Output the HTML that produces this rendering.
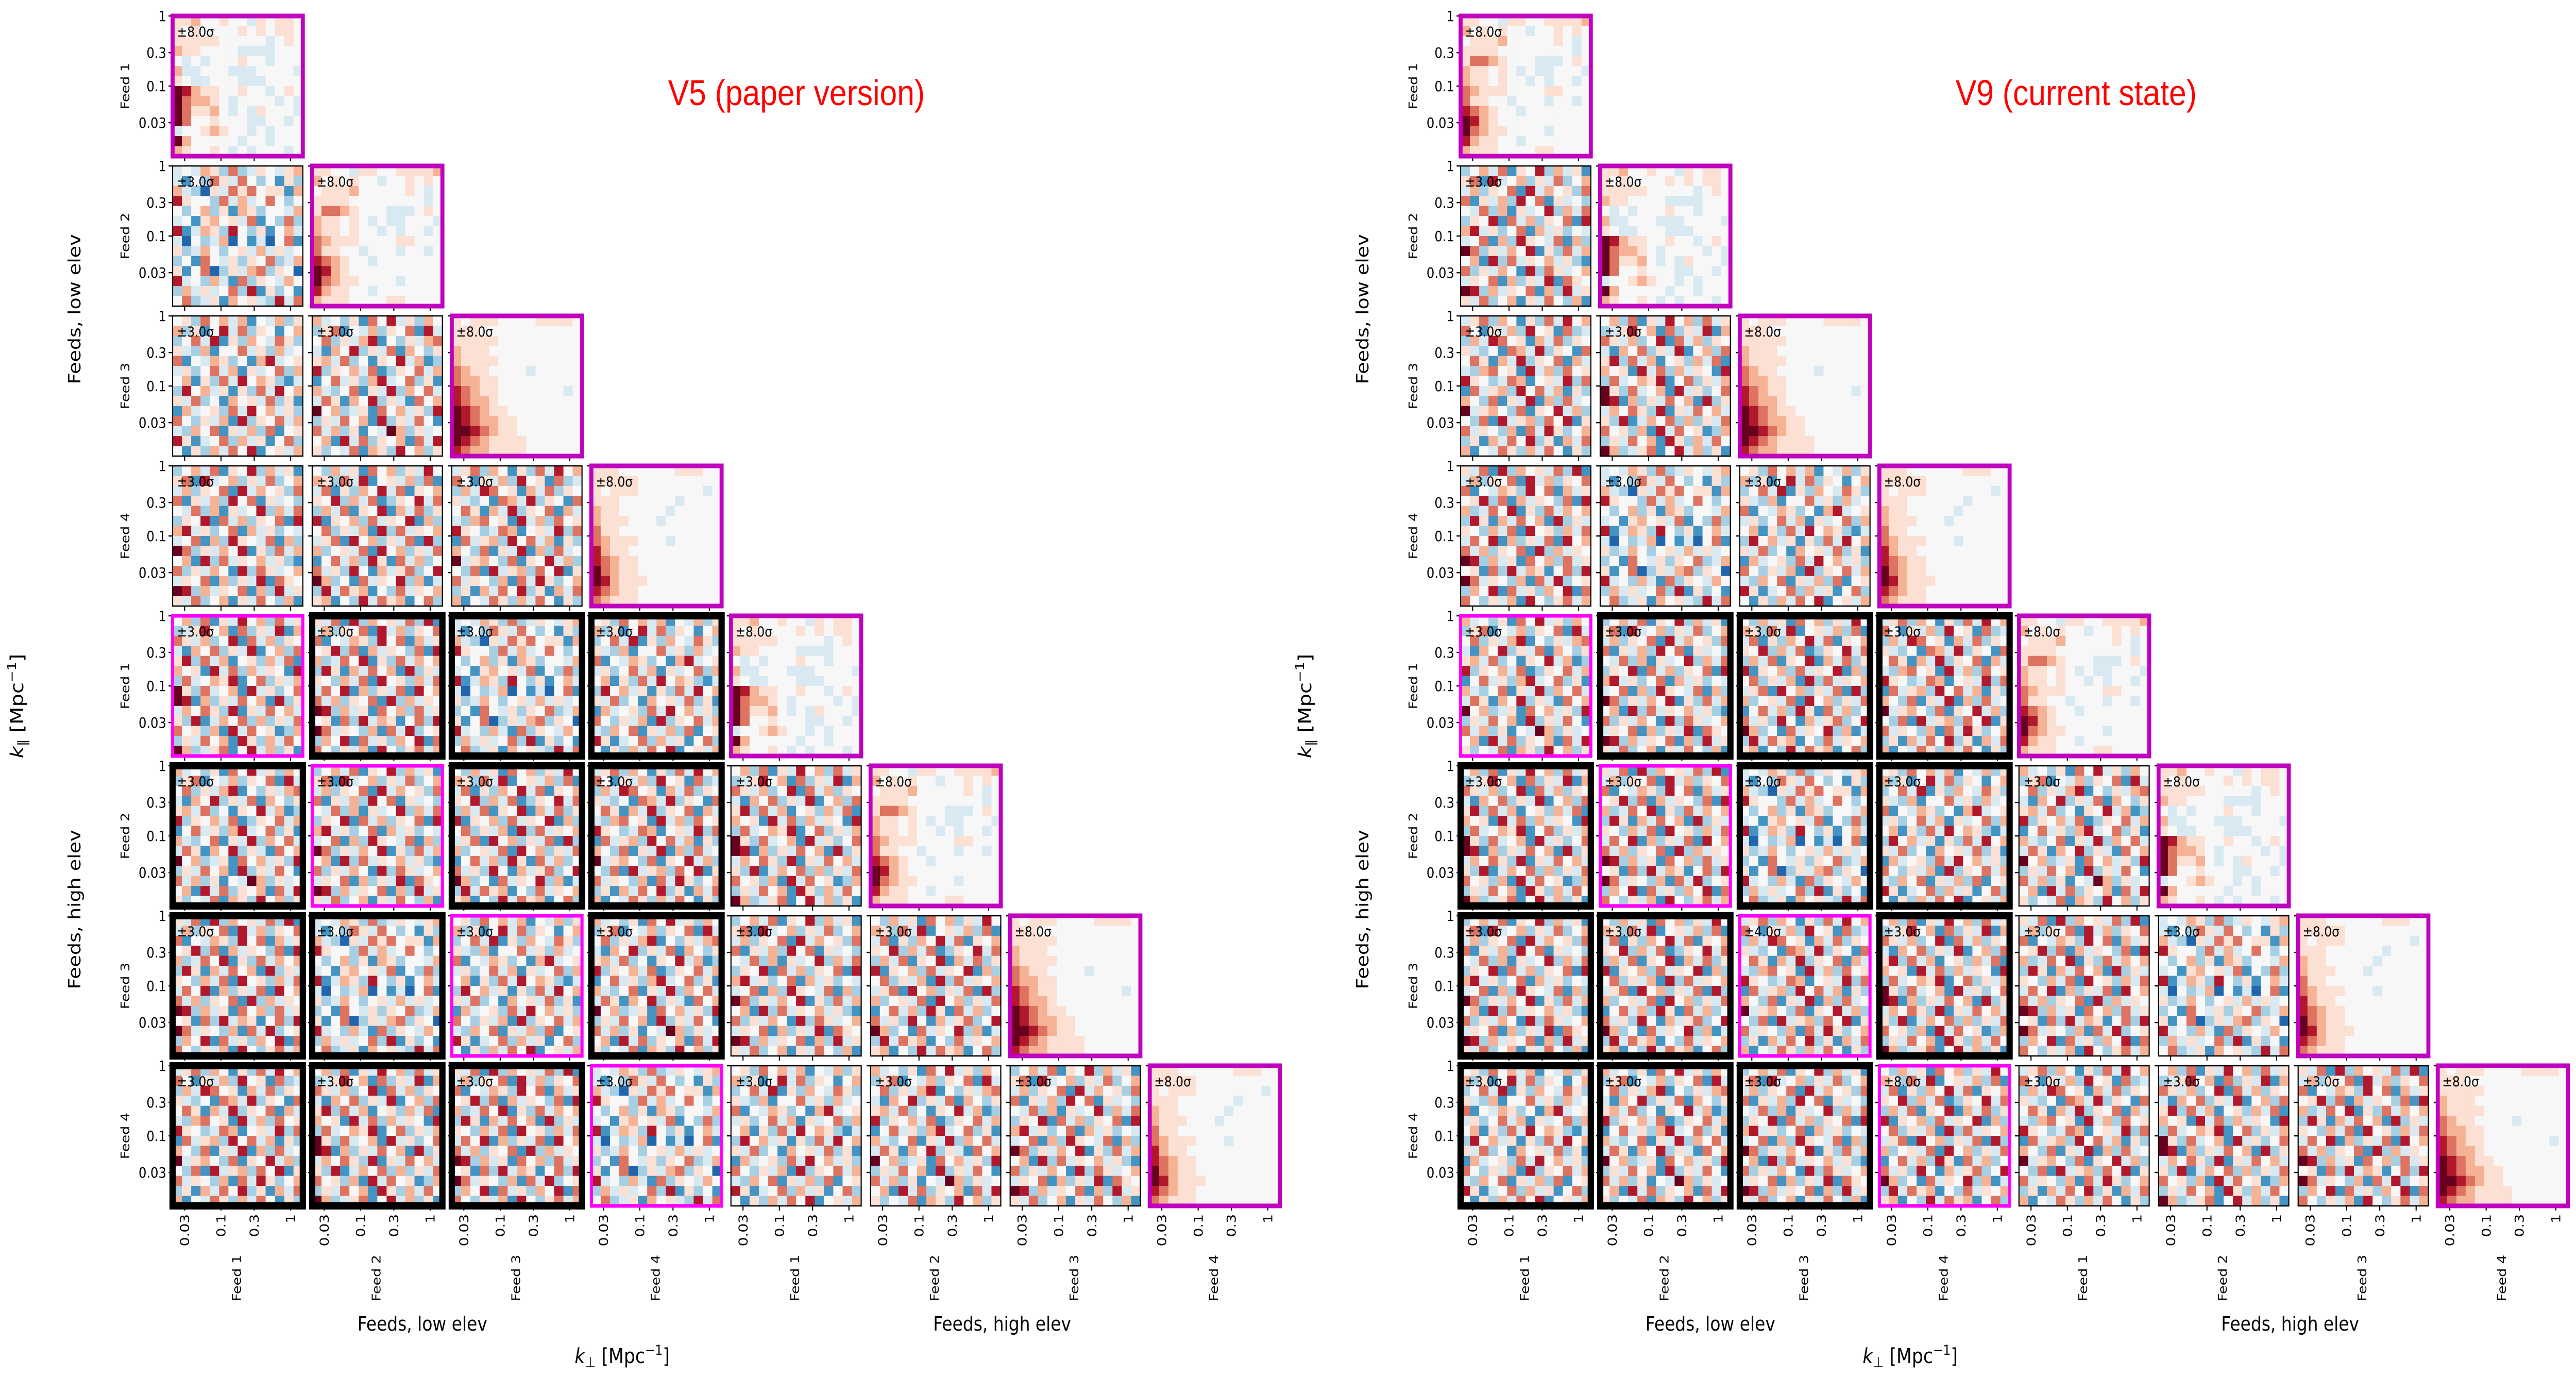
<!DOCTYPE html>
<html><head><meta charset="utf-8">
<style>
html,body{margin:0;padding:0;background:#fff;width:100%;height:100%;overflow:hidden;}
svg{display:block;position:absolute;left:0;top:0;width:100vw;height:100vh;}
text{font-family:"DejaVu Sans","Liberation Sans",sans-serif;}
</style></head>
<body>
<svg id="chart" xmlns="http://www.w3.org/2000/svg" viewBox="0 0 5776 2672" preserveAspectRatio="none">
<rect width="5776" height="2672" fill="#fff"/>
<text x="1498" y="204" font-size="70" fill="#ff0000" style="font-family:'Liberation Sans',sans-serif">V5 (paper version)</text>
<text x="4385" y="204" font-size="70" fill="#ff0000" style="font-family:'Liberation Sans',sans-serif">V9 (current state)</text>
</svg>
<script>
// colour levels 0..10 (RdBu_r)
const cmap = ["#053061","#2166ac","#4393c3","#a6cfe4","#d8e9f2","#f7f7f7","#fbe0d3","#f5b295","#dd7360","#b2182b","#67001f"];
const yTicks = [1, 0.3, 0.1, 0.03];
const yTickLabels = ["1", "0.3", "0.1", "0.03"];
const xTicks = [0.03, 0.1, 0.3, 1];
const xTickLabels = ["0.03", "0.1", "0.3", "1"];
const feedNames = ["Feed 1","Feed 2","Feed 3","Feed 4"];
const A0 = ["66755655465665","65655556565665","66666555554565","76655554444555","54545556554555","74455544455554","65445554445555","a9766556554565","a8776545555454","a8667545465554","a8556555445545","45567655454555","a7555554554555","76556545455545"];
const A1 = ["66554665566667","75656554556565","56667555556545","66665555555545","68876555444565","76656545445554","76656554545545","87666555566555","86655455545545","98765545555555","a9765555555555","a8766555545555","97665545555555","76665555665555"];
const A2 = ["65666555566665","66655555555555","66666555555555","76665555555555","76666555555555","87665555455555","87766555555555","98766555555545","98776555555555","a9876655555555","a9877665555555","aa987665555555","a9876666555555","98776666555555"];
const A3 = ["66655555566655","66666555555555","65666555555545","66655555545555","76655555455555","76665554555555","86655555555555","87666555455555","97665555555555","98766555555555","a8766555555555","a9766655555555","98766555555555","87666555555555"];
const N0 = ["45476383465467","42538648535263","74316486856627","96553847458535","53573627635547","45267564825383","92476395362574","41534715241582","63475356474645","35285463658347","62581364783651","94537428365475","37464583926352","58346275643948"];
const N1 = ["56385747254736","73625948365257","35849263754863","64372558463745","82547635279456","46358472645837","57263849576324","39574626384957","64835275648362","27456384957463","85364729365847","43758264738256","96245837462583","52637485925647"];
const N2 = ["74536285946375","36825473658294","58364792536478","42759364827536","67483526594723","93657482365847","25846379458362","74358264937584","48627593642857","a5734628574639","36485729364852","84736254a73645","57294836572849","63548276395736"];
const N3 = ["35748265937462","68294573648357","47365829475638","82647395826453","54837264593748","36592847365829","79463582746354","45827396548273","a8364759263847","57293846574632","83647529386457","46582736492865","a9374658273946","64835726485372"];
const N4 = ["53746285736495","76384925647382","48263759482657","65937482365948","37482659274836","92657384659273","58364729384657","46829573648293","73564829573648","25847396284735","84639527468359","a7352846593724","39486725384657","67253948672583"];
const N5 = ["46837526384957","85264739562834","37498562748365","64352874936528","58627493658274","43785629473856","96534872564938","28467395847263","75382649273845","a4675382659473","53829467385926","84653728496357","36274859362748","72548637485263"];
const N6 = ["57382649573846","34695728364927","86473592847365","42758364925738","69384725637482","75629483746529","38457692583647","a6384572946358","a9273648572936","47586392648574","63924758373648","85637294856237","36485729637485","a7346825947362"];
const N7 = ["64829375648392","47365829473658","82547639582746","56938274653829","73485926384757","39627485729364","65374829563748","48592736482957","84736582937465","a9374628573846","56283947625839","a8465372849356","37592846375928","85364729536847"];
const figLPanels = [[A0],[N0,A1],[N1,N2,A2],[N3,N4,N5,A3],[N6,N7,N0,N1,A0],[N2,N3,N4,N5,N6,A1],[N7,N0,N1,N2,N3,N4,A2],[N5,N6,N7,N0,N1,N2,N3,A3]];
const figRPanels = [[A1],[N3,A0],[N5,N6,A2],[N7,N0,N1,A3],[N2,N3,N4,N5,A1],[N6,N7,N0,N1,N2,A0],[N3,N4,N5,N6,N7,N0,A3],[N1,N2,N3,N4,N5,N6,N7,A2]];
const figLSigma = [["±8.0σ"],["±3.0σ","±8.0σ"],["±3.0σ","±3.0σ","±8.0σ"],["±3.0σ","±3.0σ","±3.0σ","±8.0σ"],["±3.0σ","±3.0σ","±3.0σ","±3.0σ","±8.0σ"],["±3.0σ","±3.0σ","±3.0σ","±3.0σ","±3.0σ","±8.0σ"],["±3.0σ","±3.0σ","±3.0σ","±3.0σ","±3.0σ","±3.0σ","±8.0σ"],["±3.0σ","±3.0σ","±3.0σ","±3.0σ","±3.0σ","±3.0σ","±3.0σ","±8.0σ"]];
const figRSigma = [["±8.0σ"],["±3.0σ","±8.0σ"],["±3.0σ","±3.0σ","±8.0σ"],["±3.0σ","±3.0σ","±3.0σ","±8.0σ"],["±3.0σ","±3.0σ","±3.0σ","±3.0σ","±8.0σ"],["±3.0σ","±3.0σ","±3.0σ","±3.0σ","±3.0σ","±8.0σ"],["±3.0σ","±3.0σ","±4.0σ","±3.0σ","±3.0σ","±3.0σ","±8.0σ"],["±3.0σ","±3.0σ","±3.0σ","±8.0σ","±3.0σ","±3.0σ","±3.0σ","±8.0σ"]];

const NS = "http://www.w3.org/2000/svg";
const svg = document.getElementById('chart');
const AXW = 292, AXH = 272, PX = 313, PY = 291;
function mk(tag, attrs, parent){ const e=document.createElementNS(NS,tag); for(const k in attrs) e.setAttribute(k,attrs[k]); parent.appendChild(e); return e; }
function yScale(top, k){ return top + (0 - Math.log10(k)) * (AXH/2); }
function xScale(left, k){ return left + (Math.log10(k) + 1.696) * 156; }

function drawFigure(ox, panels, sigmas, figName){
  const g = mk('g', {}, svg);
  
  
  for(let r=0;r<8;r++){
    for(let c=0;c<=r;c++){
      const left = ox + 387 + PX*c, top = 31 + PY*r;
      const pg = mk('g', {}, g);
      
      
      const data = panels[r][c];
      const nr = data.length, nc = data[0].length;
      const cw = AXW/nc, ch = AXH/nr;
      for(let i=0;i<nr;i++){
        for(let j=0;j<nc;j++){
          const v = parseInt(data[i][j], 11);
          const cell = mk('rect', {x:(left+j*cw).toFixed(2), y:(top+i*ch).toFixed(2), width:(cw+0.6).toFixed(2), height:(ch+0.6).toFixed(2), fill:cmap[v]}, pg);
          
          
        }
      }
      yTicks.forEach(k=>{ const y=yScale(top,k); mk('line',{x1:left-9,x2:left,y1:y,y2:y,stroke:'#000','stroke-width':2.5},pg); });
      xTicks.forEach(k=>{ const x=xScale(left,k); mk('line',{x1:x,x2:x,y1:top+AXH,y2:top+AXH+9,stroke:'#000','stroke-width':2.5},pg); });
      let col='#000', w=2.5;
      if(r===c){ col='#bf00bf'; w=9; }
      else if(r>=4 && c<4){ if(r-4===c){ col='#ff00ff'; w=7; } else { col='#000'; w=14; } }
      const sp = mk('rect',{x:left,y:top,width:AXW,height:AXH,fill:'none',stroke:col,'stroke-width':w},pg);
      
      
      const st = mk('text',{x:left+10,y:top+40,'font-size':27,fill:'#000'},pg);
      st.textContent = sigmas[r][c];
      
      
      if(c===0){
        yTicks.forEach((k,i)=>{ const t=mk('text',{x:left-14,y:yScale(top,k)+10,'font-size':28,'text-anchor':'end'},pg); t.textContent=yTickLabels[i];
          
           });
        const fl = mk('text',{x:0,y:0,'font-size':27,'text-anchor':'middle',transform:'translate('+(left-97)+','+(top+AXH/2)+') rotate(-90)'},pg);
        fl.textContent = feedNames[r%4];
        
        
      }
      if(r===7){
        xTicks.forEach((k,i)=>{ const x=xScale(left,k); const t=mk('text',{x:0,y:0,'font-size':28,'text-anchor':'end',transform:'translate('+(x+10)+','+(top+AXH+16)+') rotate(-90)'},pg); t.textContent=xTickLabels[i];
          
           });
        const fl = mk('text',{x:0,y:0,'font-size':27,'text-anchor':'middle',transform:'translate('+(left+153)+','+(2480)+') rotate(-90)'},pg);
        fl.textContent = feedNames[c%4];
        
        
      }
    }
  }
  const labels = [
    {t:'Feeds, low elev', x:ox+947, y:2582, rot:false, n:'x-group-low'},
    {t:'Feeds, high elev', x:ox+2247, y:2582, rot:false, n:'x-group-high'},
    {t:'Feeds, low elev', x:ox+180, y:600, rot:true, n:'y-group-low'},
    {t:'Feeds, high elev', x:ox+180, y:1765, rot:true, n:'y-group-high'}
  ];
  labels.forEach(L=>{
    const t = mk('text',{x:0,y:0,'font-size':38,'text-anchor':'middle',transform:'translate('+L.x+','+L.y+')'+(L.rot?' rotate(-90)':'')},g);
    t.textContent = L.t;
    
    
  });
  const kx = mk('text',{x:0,y:0,'font-size':40,'text-anchor':'middle',transform:'translate('+(ox+1395)+',2645)'},g);
  kx.innerHTML = '<tspan font-style="italic">k</tspan><tspan font-size="28" dy="8">⊥</tspan><tspan dy="-8"> [Mpc</tspan><tspan font-size="27" dy="-16">−1</tspan><tspan dy="16">]</tspan>';
  
  
  const ky = mk('text',{x:0,y:0,'font-size':40,'text-anchor':'middle',transform:'translate('+(ox+52)+',1370) rotate(-90)'},g);
  ky.innerHTML = '<tspan font-style="italic">k</tspan><tspan font-size="28" dy="8">∥</tspan><tspan dy="-8"> [Mpc</tspan><tspan font-size="27" dy="-16">−1</tspan><tspan dy="16">]</tspan>';
  
  
}
drawFigure(0, figLPanels, figLSigma, 'figure-v5');
drawFigure(2888, figRPanels, figRSigma, 'figure-v9');
</script>
</body></html>
